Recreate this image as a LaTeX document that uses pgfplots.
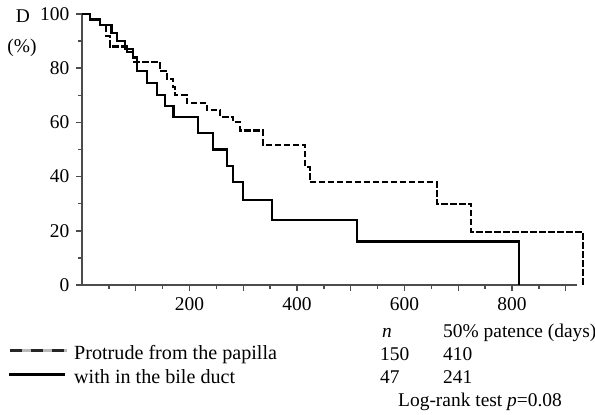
\documentclass[border=0pt]{standalone}
\usepackage{fontspec}
\setmainfont{Liberation Serif}
\usepackage{pgfplots}
\pgfplotsset{compat=1.18}
\begin{document}
\fontsize{19.5}{22}\selectfont
\begin{tikzpicture}[x=1bp,y=1bp]
\useasboundingbox (0,0) rectangle (595,414);
\begin{axis}[
    at={(82bp,129bp)}, anchor=south west,
    scale only axis, width=494.5bp, height=271bp,
    xmin=0, xmax=920, ymin=0, ymax=100,
    axis lines=left,
    axis line style={-, line width=2.4bp, black!70},
    clip=false,
    tick align=outside,
    major tick length=6bp, minor tick length=4bp,
    tick style={line width=1.4bp, black!70},
    xtick={100,200,...,900},
    xticklabels={,200,,400,,600,,800,},
    minor xtick={50,150,...,850},
    ytick={0,20,...,100},
    minor ytick={10,30,...,90},
    /pgf/number format/assume math mode=true,
    tick label style={font=\fontsize{19.5}{22}\selectfont},
]

% within the bile duct (n=47)
\addplot[const plot, black, line width=2.3bp] coordinates {
    (0,100)(15,98)(33,96)(55,93)(65,90)(80,87)(95,84)(102,79)
    (121,74.5)(140,70)(155,66)(170,62)(216,56)(244,50)(270,44)
    (281,38)(299,31.4)(354,24)(512,16)(813,0)
};

% protrude from the papilla (n=150)
\addplot[const plot, black, line width=2.1bp, dash pattern=on 6.5bp off 2.5bp] coordinates {
    (0,100)(15,98)(33,96)(45,92)(52,88)(84,86)(95,82.4)(145,79)
    (158,76)(170,73)(173,70)(195,67)(232,64.5)(257,62)(281,60)
    (294,57)(337,51.6)(415,43.5)(424,38)(660,30)(724,19.6)(932,0)
};
\end{axis}

\node[anchor=base, inner sep=0] at (23,391) {D};
\node[inner sep=0] at (22,366) {(\%)};

% legend
\draw[gray!55, line width=3bp] (10,64) -- (67,64);
\draw[black!85, line width=3bp, dash pattern=on 12bp off 9bp] (10,64) -- (67,64);
\draw[black, line width=3bp] (9,40) -- (65,40);
\node[anchor=base west, inner sep=0] at (74,55) {\fontsize{20.2}{22}\selectfont Protrude from the papilla};
\node[anchor=base west, inner sep=0] at (74,31) {\fontsize{20.2}{22}\selectfont with in the bile duct};

\node[anchor=base, inner sep=0] at (387,76.5) {\textit{n}};
\node[anchor=base west, inner sep=0] at (443,76.5) {50\% patence (days)};
\node[anchor=base west, inner sep=0] at (380,54) {150};
\node[anchor=base west, inner sep=0] at (443,54) {410};
\node[anchor=base west, inner sep=0] at (380,31) {47};
\node[anchor=base west, inner sep=0] at (443,31) {241};
\node[anchor=base west, inner sep=0] at (398,7.5) {Log-rank test \textit{p}=0.08};
\end{tikzpicture}
\end{document}
